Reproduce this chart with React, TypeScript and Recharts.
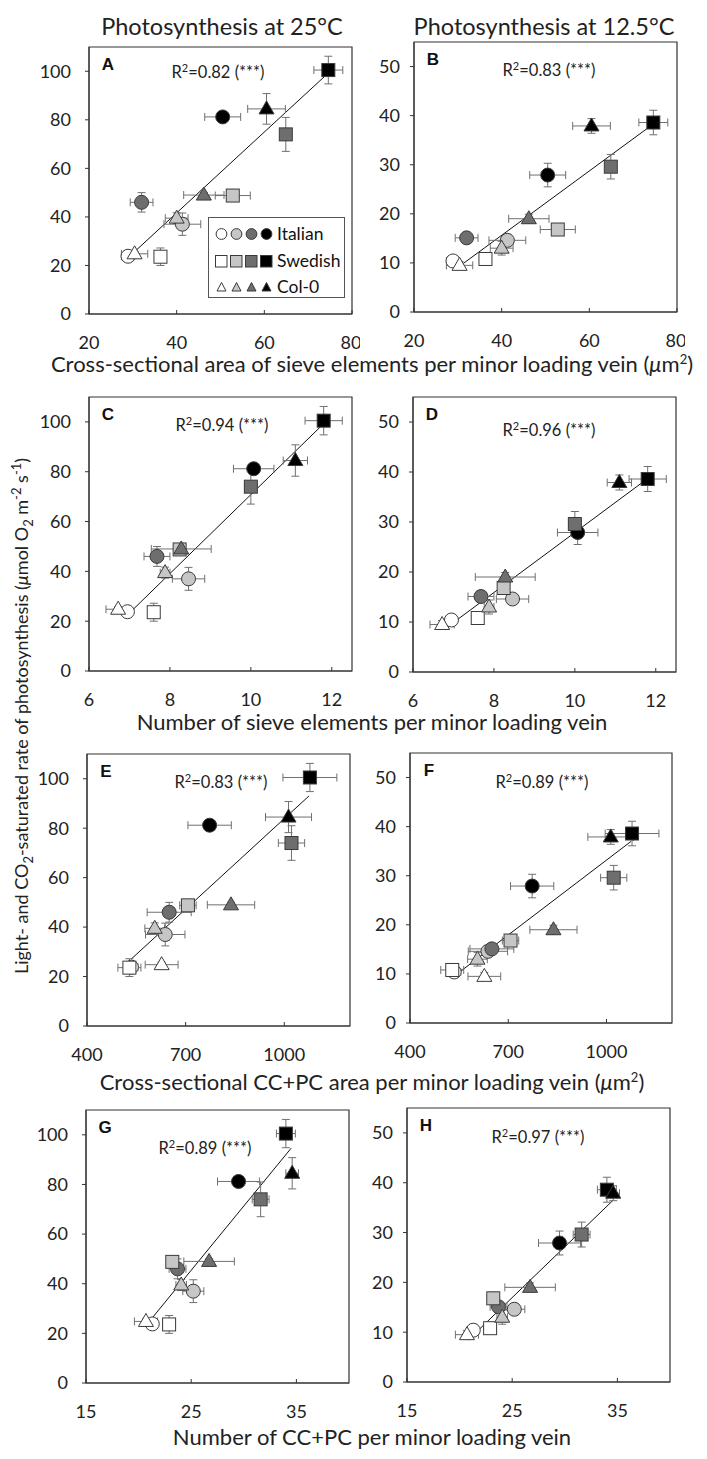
import React from 'react';
import { ScatterChart, Scatter, XAxis, YAxis, ErrorBar, ReferenceLine, ReferenceArea } from 'recharts';

const FONT = 'Lato, "Open Sans", sans-serif';

// point order: Italian (white, light, dark, black), Swedish (...), Col-0 (...)
const groups = ['Italian', 'Swedish', 'Col-0'];
const shapes = ['circle', 'square', 'triangle'];
const shades = ['#ffffff', '#c6c6c6', '#6e6e6e', '#000000'];

// photosynthesis at 25°C and 12.5°C
const rate25 = [23.8, 37, 46, 81.2, 23.6, 48.8, 74, 100.5, 24.8, 39.5, 49, 84.5];
const rate25Err = [1, 4.6, 4, 1.5, 3.6, 2, 7, 5.7, 1, 2.2, 1, 6.3];
const rate12 = [10.4, 14.6, 15.1, 27.9, 10.8, 16.8, 29.6, 38.6, 9.5, 13, 19, 37.9];
const rate12Err = [0.8, 1.1, 0.9, 2.4, 1, 1.2, 2.5, 2.5, 0.8, 1.4, 0.9, 1.5];

// anatomy (x variables)
const seArea = [28.9, 41.3, 32, 50.5, 36.3, 52.8, 64.9, 74.6, 30.4, 40, 46.2, 60.5];
const seAreaErr = [1.5, 4.2, 2.6, 4.1, 1, 4, 1.2, 3.3, 3, 2.6, 4.6, 4.3];
const seNum = [6.95, 8.46, 7.68, 10.07, 7.6, 8.24, 10.0, 11.8, 6.72, 7.88, 8.28, 11.1];
const seNumErr = [0.1, 0.4, 0.32, 0.5, 0.05, 0.12, 0.15, 0.46, 0.3, 0.12, 0.74, 0.3];
const ccArea = [535, 638, 650, 773, 529, 707, 1022, 1078, 627, 606, 838, 1013];
const ccAreaErr = [20, 60, 67, 66, 35, 25, 40, 82, 50, 30, 72, 70];
const ccNum = [21.3, 25.2, 23.7, 29.5, 22.9, 23.2, 31.6, 34.0, 20.7, 24.05, 26.7, 34.6];
const ccNumErr = [0.5, 1.0, 0.8, 2.0, 0.6, 0.4, 0.8, 0.9, 1.1, 0.5, 2.4, 0.6];

// regression line end points
const fitA = [[29.7, 24.5], [74.6, 99.3]];
const fitB = [[30.5, 9.4], [74.6, 38.3]];
const fitC = [[6.95, 22.5], [11.8, 99.3]];
const fitD = [[6.85, 9.0], [11.75, 38.4]];
const fitE = [[534, 27], [1075, 93]];
const fitF = [[542, 9.9], [1075, 37]];
const fitG = [[20.9, 24.2], [34.5, 94.6]];
const fitH = [[20.8, 8.4], [34.6, 36.5]];

const r2Labels = ['0.82', '0.83', '0.94', '0.96', '0.83', '0.89', '0.89', '0.97'];

const rows = (xs: number[], xe: number[], ys: number[], ye: number[]) =>
  xs.map((x, i) => ({
    x,
    y: ys[i],
    ex: xe[i],
    ey: ye[i],
    shape: shapes[Math.floor(i / 4)],
    fill: shades[i % 4],
  }));

function Marker(props: any) {
  const { cx, cy, payload } = props;
  if (cx == null || cy == null) return null;
  const fill = payload.fill;
  const stroke = '#3a3a3a';
  if (payload.shape === 'circle')
    return <circle cx={cx} cy={cy} r={7} fill={fill} stroke={stroke} strokeWidth={1} />;
  if (payload.shape === 'square')
    return <rect x={cx - 6.5} y={cy - 6.5} width={13} height={13} fill={fill} stroke={stroke} strokeWidth={1} />;
  return (
    <polygon
      points={`${cx},${cy - 8} ${cx + 7.5},${cy + 5} ${cx - 7.5},${cy + 5}`}
      fill={fill}
      stroke={stroke}
      strokeWidth={1}
    />
  );
}

const YL = 50;
const TOPM = 6;

function Panel(p: any) {
  const { left, top, w, h, xDomain, xTicks, yMax, yTicks, data, fit, letter, r2, r2x, r2y, yTickMargin } = p;
  return (
    <>
      <div style={{ position: 'absolute', left: left - YL, top: top - TOPM }}>
        <ScatterChart width={YL + w + 8} height={TOPM + h + 40} margin={{ top: TOPM, right: 8, bottom: 0, left: 0 }}>
          <XAxis
            type="number"
            dataKey="x"
            domain={xDomain}
            ticks={xTicks}
            allowDataOverflow
            height={40}
            tickSize={-4}
            tickMargin={26}
            stroke="#333"
            tick={{ fill: '#222', fontSize: 18, fontFamily: FONT }}
          />
          <YAxis
            type="number"
            dataKey="y"
            domain={[0, yMax]}
            ticks={yTicks}
            allowDataOverflow
            width={YL}
            tickSize={4}
            tickMargin={yTickMargin}
            stroke="#333"
            tick={{ fill: '#222', fontSize: 18, fontFamily: FONT }}
          />
          <ReferenceArea x1={xDomain[0]} x2={xDomain[1]} y1={0} y2={yMax} fill="none" stroke="#333" strokeWidth={1.2} />
          <ReferenceLine
            segment={[{ x: fit[0][0], y: fit[0][1] }, { x: fit[1][0], y: fit[1][1] }]}
            stroke="#111"
            strokeWidth={1}
          />
          <Scatter data={data} shape={Marker} isAnimationActive={false}>
            <ErrorBar dataKey="ex" direction="x" width={4} stroke="#707070" strokeWidth={1} isAnimationActive={false} />
            <ErrorBar dataKey="ey" direction="y" width={4} stroke="#707070" strokeWidth={1} isAnimationActive={false} />
          </Scatter>
        </ScatterChart>
      </div>
      <div
        style={{
          position: 'absolute',
          left: left + 19,
          top: top + 18,
          transform: 'translate(-50%,-50%)',
          fontFamily: '"Liberation Sans", Arial, sans-serif',
          fontWeight: 'bold',
          fontSize: 17,
          color: '#111',
        }}
      >
        {letter}
      </div>
      <div
        style={{
          position: 'absolute',
          left: r2x,
          top: r2y,
          transform: 'translate(-50%,-50%)',
          fontFamily: FONT,
          fontSize: 16.5,
          whiteSpace: 'nowrap',
          color: '#222',
        }}
      >
        R<sup style={{ fontSize: 11, verticalAlign: 'top', lineHeight: '12px' }}>2</sup>={r2} (***)
      </div>
    </>
  );
}

const leftY = { yMax: 110, yTicks: [0, 20, 40, 60, 80, 100], yTickMargin: 14 };
const rightY = { yMax: 55, yTicks: [0, 10, 20, 30, 40, 50], yTickMargin: 10 };
const axA = { xDomain: [20, 80], xTicks: [20, 40, 60, 80] };
const axC = { xDomain: [6, 12.5], xTicks: [6, 8, 10, 12] };
const axE = { xDomain: [400, 1200], xTicks: [400, 700, 1000] };
const axG = { xDomain: [15, 40], xTicks: [15, 25, 35] };

const panels = [
  { letter: 'A', left: 89, top: 47, w: 263, h: 267, ...leftY, ...axA, data: rows(seArea, seAreaErr, rate25, rate25Err), fit: fitA, r2x: 218, r2y: 72 },
  { letter: 'B', left: 414, top: 42, w: 263, h: 270, ...rightY, ...axA, data: rows(seArea, seAreaErr, rate12, rate12Err), fit: fitB, r2x: 549, r2y: 70 },
  { letter: 'C', left: 89, top: 397, w: 263, h: 274, ...leftY, ...axC, data: rows(seNum, seNumErr, rate25, rate25Err), fit: fitC, r2x: 222, r2y: 425 },
  { letter: 'D', left: 413, top: 397, w: 263, h: 275, ...rightY, ...axC, data: rows(seNum, seNumErr, rate12, rate12Err), fit: fitD, r2x: 549, r2y: 430 },
  { letter: 'E', left: 87, top: 754, w: 263, h: 272, ...leftY, ...axE, data: rows(ccArea, ccAreaErr, rate25, rate25Err), fit: fitE, r2x: 221, r2y: 782 },
  { letter: 'F', left: 410, top: 753, w: 262, h: 270, ...rightY, ...axE, data: rows(ccArea, ccAreaErr, rate12, rate12Err), fit: fitF, r2x: 542, r2y: 782 },
  { letter: 'G', left: 86, top: 1110, w: 263, h: 273, ...leftY, ...axG, data: rows(ccNum, ccNumErr, rate25, rate25Err), fit: fitG, r2x: 205, r2y: 1148 },
  { letter: 'H', left: 407, top: 1108, w: 263, h: 274, ...rightY, ...axG, data: rows(ccNum, ccNumErr, rate12, rate12Err), fit: fitH, r2x: 538, r2y: 1137 },
];

const supStyle = { fontSize: 13, lineHeight: 0 };

const xTitles = [
  { y: 364, text: <>Cross-sectional area of sieve elements per minor loading vein (<i>μ</i>m<sup style={supStyle}>2</sup>)</> },
  { y: 722, text: <>Number of sieve elements per minor loading vein</> },
  { y: 1082, text: <>Cross-sectional CC+PC area per minor loading vein (<i>μ</i>m<sup style={supStyle}>2</sup>)</> },
  { y: 1437, text: <>Number of CC+PC per minor loading vein</> },
];

function LegendShape({ shape, fill }: { shape: string; fill: string }) {
  const s = '#3a3a3a';
  return (
    <svg width={15} height={14} style={{ display: 'block' }}>
      {shape === 'circle' && <circle cx={7.5} cy={7} r={5.4} fill={fill} stroke={s} strokeWidth={1} />}
      {shape === 'square' && <rect x={1.5} y={1.5} width={11.5} height={11.5} fill={fill} stroke={s} strokeWidth={1} />}
      {shape === 'triangle' && <polygon points="7.5,2.5 12,11 3,11" fill={fill} stroke={s} strokeWidth={1} />}
    </svg>
  );
}

function Legend() {
  return (
    <div
      style={{
        position: 'absolute',
        left: 208,
        top: 217,
        width: 135,
        height: 79,
        border: '1px solid #555',
        background: '#fff',
        fontFamily: FONT,
        fontSize: 17.5,
        color: '#111',
      }}
    >
      {groups.map((g, gi) => (
        <div key={g} style={{ position: 'absolute', left: 5, top: 7 + gi * 26.5, display: 'flex', alignItems: 'center', height: 18 }}>
          {shades.map((c) => (
            <LegendShape key={c} shape={shapes[gi]} fill={c} />
          ))}
          <span style={{ marginLeft: 3, lineHeight: '18px' }}>{g}</span>
        </div>
      ))}
    </div>
  );
}

export default function App() {
  return (
    <div style={{ position: 'absolute', left: 0, top: 0, width: 707, height: 1459, background: '#fff', fontFamily: FONT, color: '#222' }}>
      <div style={{ position: 'absolute', left: 222, top: 26, transform: 'translate(-50%,-50%)', fontSize: 23.5, whiteSpace: 'nowrap' }}>
        Photosynthesis at 25°C
      </div>
      <div style={{ position: 'absolute', left: 544, top: 26, transform: 'translate(-50%,-50%)', fontSize: 23.5, whiteSpace: 'nowrap' }}>
        Photosynthesis at 12.5°C
      </div>
      {panels.map((p) => (
        <Panel key={p.letter} {...p} r2={r2Labels['ABCDEFGH'.indexOf(p.letter)]} />
      ))}
      <Legend />
      {xTitles.map((t, i) => (
        <div
          key={i}
          style={{ position: 'absolute', left: 372, top: t.y, transform: 'translate(-50%,-50%)', fontSize: 22, whiteSpace: 'nowrap', lineHeight: '18px' }}
        >
          {t.text}
        </div>
      ))}
      <div
        style={{
          position: 'absolute',
          left: 21,
          top: 716,
          transform: 'translate(-50%,-50%) rotate(-90deg)',
          fontSize: 18,
          whiteSpace: 'nowrap',
          lineHeight: '22px',
        }}
      >
        Light- and CO<sub style={supStyle}>2</sub>-saturated rate of photosynthesis (<i>μ</i>mol O
        <sub style={supStyle}>2</sub> m<sup style={supStyle}>-2</sup> s<sup style={supStyle}>-1</sup>)
      </div>
    </div>
  );
}
